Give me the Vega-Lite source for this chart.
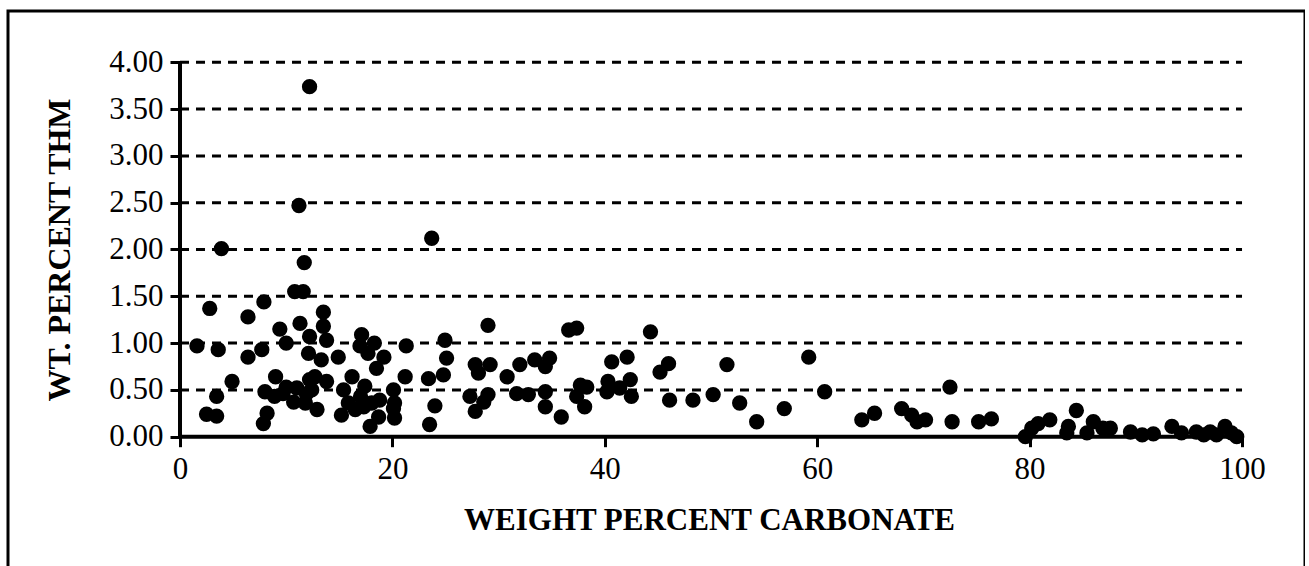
{
  "$schema": "https://vega.github.io/schema/vega-lite/v6.json",
  "width": 1297,
  "height": 560,
  "autosize": {"type": "none"},
  "padding": {"left": 8, "top": 11, "right": 0, "bottom": 0},
  "background": "white",
  "config": {"view": {"stroke": "black", "strokeWidth": 3}, "font": "Liberation Serif"},
  "datasets": {
    "points": [
      {"carbonate": 12.2, "thm": 3.74}, {"carbonate": 11.2, "thm": 2.47}, {"carbonate": 3.9, "thm": 2.01}, {"carbonate": 23.7, "thm": 2.12},
      {"carbonate": 11.7, "thm": 1.86}, {"carbonate": 10.8, "thm": 1.55}, {"carbonate": 11.6, "thm": 1.55}, {"carbonate": 2.8, "thm": 1.37},
      {"carbonate": 6.4, "thm": 1.28}, {"carbonate": 7.9, "thm": 1.44}, {"carbonate": 1.6, "thm": 0.97}, {"carbonate": 3.6, "thm": 0.93},
      {"carbonate": 6.4, "thm": 0.85}, {"carbonate": 7.7, "thm": 0.93}, {"carbonate": 4.9, "thm": 0.59}, {"carbonate": 3.45, "thm": 0.43},
      {"carbonate": 2.5, "thm": 0.24}, {"carbonate": 3.45, "thm": 0.22}, {"carbonate": 7.85, "thm": 0.14}, {"carbonate": 8.2, "thm": 0.25},
      {"carbonate": 8.0, "thm": 0.48}, {"carbonate": 9.0, "thm": 0.64}, {"carbonate": 9.4, "thm": 1.15}, {"carbonate": 10.0, "thm": 1.0},
      {"carbonate": 11.3, "thm": 1.21}, {"carbonate": 13.5, "thm": 1.33}, {"carbonate": 13.5, "thm": 1.18}, {"carbonate": 12.2, "thm": 1.07},
      {"carbonate": 13.8, "thm": 1.03}, {"carbonate": 12.1, "thm": 0.89}, {"carbonate": 14.9, "thm": 0.85}, {"carbonate": 13.3, "thm": 0.82},
      {"carbonate": 12.7, "thm": 0.64}, {"carbonate": 13.8, "thm": 0.59}, {"carbonate": 12.4, "thm": 0.5}, {"carbonate": 10.0, "thm": 0.53},
      {"carbonate": 8.9, "thm": 0.43}, {"carbonate": 11.0, "thm": 0.52}, {"carbonate": 10.7, "thm": 0.37}, {"carbonate": 11.8, "thm": 0.36},
      {"carbonate": 12.9, "thm": 0.29}, {"carbonate": 15.4, "thm": 0.5}, {"carbonate": 15.2, "thm": 0.23}, {"carbonate": 16.2, "thm": 0.64},
      {"carbonate": 17.1, "thm": 1.09}, {"carbonate": 16.95, "thm": 0.97}, {"carbonate": 18.3, "thm": 1.0}, {"carbonate": 19.2, "thm": 0.85},
      {"carbonate": 17.7, "thm": 0.89}, {"carbonate": 18.5, "thm": 0.73}, {"carbonate": 17.4, "thm": 0.54}, {"carbonate": 17.0, "thm": 0.43},
      {"carbonate": 15.85, "thm": 0.36}, {"carbonate": 16.5, "thm": 0.29}, {"carbonate": 17.3, "thm": 0.32}, {"carbonate": 18.05, "thm": 0.36},
      {"carbonate": 18.8, "thm": 0.39}, {"carbonate": 18.7, "thm": 0.21}, {"carbonate": 17.9, "thm": 0.11}, {"carbonate": 20.1, "thm": 0.5},
      {"carbonate": 20.2, "thm": 0.36}, {"carbonate": 20.2, "thm": 0.2}, {"carbonate": 20.1, "thm": 0.3}, {"carbonate": 21.2, "thm": 0.64},
      {"carbonate": 21.3, "thm": 0.97}, {"carbonate": 23.4, "thm": 0.62}, {"carbonate": 23.5, "thm": 0.13}, {"carbonate": 24.0, "thm": 0.33},
      {"carbonate": 24.8, "thm": 0.66}, {"carbonate": 25.1, "thm": 0.84}, {"carbonate": 24.95, "thm": 1.03}, {"carbonate": 9.7, "thm": 0.46},
      {"carbonate": 11.9, "thm": 0.46}, {"carbonate": 12.2, "thm": 0.61},
      {"carbonate": 29.0, "thm": 1.19}, {"carbonate": 27.8, "thm": 0.77}, {"carbonate": 28.1, "thm": 0.68}, {"carbonate": 29.2, "thm": 0.77},
      {"carbonate": 27.3, "thm": 0.43}, {"carbonate": 27.8, "thm": 0.27}, {"carbonate": 28.6, "thm": 0.37}, {"carbonate": 29.0, "thm": 0.45},
      {"carbonate": 30.8, "thm": 0.64}, {"carbonate": 32.0, "thm": 0.77}, {"carbonate": 33.4, "thm": 0.82}, {"carbonate": 34.8, "thm": 0.84},
      {"carbonate": 34.4, "thm": 0.75}, {"carbonate": 31.7, "thm": 0.46}, {"carbonate": 32.8, "thm": 0.45}, {"carbonate": 34.4, "thm": 0.48},
      {"carbonate": 34.4, "thm": 0.32}, {"carbonate": 35.9, "thm": 0.21}, {"carbonate": 36.6, "thm": 1.14}, {"carbonate": 37.35, "thm": 1.16},
      {"carbonate": 37.7, "thm": 0.55}, {"carbonate": 37.35, "thm": 0.43}, {"carbonate": 38.1, "thm": 0.32}, {"carbonate": 38.3, "thm": 0.53},
      {"carbonate": 40.65, "thm": 0.8}, {"carbonate": 42.1, "thm": 0.85}, {"carbonate": 40.3, "thm": 0.59}, {"carbonate": 40.2, "thm": 0.48},
      {"carbonate": 41.4, "thm": 0.52}, {"carbonate": 42.4, "thm": 0.61}, {"carbonate": 42.5, "thm": 0.43}, {"carbonate": 44.3, "thm": 1.12},
      {"carbonate": 45.2, "thm": 0.69}, {"carbonate": 46.0, "thm": 0.78}, {"carbonate": 46.1, "thm": 0.39}, {"carbonate": 48.3, "thm": 0.39},
      {"carbonate": 50.2, "thm": 0.45}, {"carbonate": 51.5, "thm": 0.77}, {"carbonate": 52.7, "thm": 0.36}, {"carbonate": 54.3, "thm": 0.16},
      {"carbonate": 56.9, "thm": 0.3}, {"carbonate": 59.2, "thm": 0.85}, {"carbonate": 60.7, "thm": 0.48}, {"carbonate": 64.2, "thm": 0.18},
      {"carbonate": 65.4, "thm": 0.25}, {"carbonate": 67.95, "thm": 0.3}, {"carbonate": 68.9, "thm": 0.23}, {"carbonate": 69.4, "thm": 0.16},
      {"carbonate": 70.2, "thm": 0.18}, {"carbonate": 72.5, "thm": 0.53}, {"carbonate": 72.7, "thm": 0.16}, {"carbonate": 75.2, "thm": 0.16},
      {"carbonate": 76.4, "thm": 0.19}, {"carbonate": 79.6, "thm": 0.0}, {"carbonate": 80.2, "thm": 0.09}, {"carbonate": 80.8, "thm": 0.14},
      {"carbonate": 81.9, "thm": 0.18}, {"carbonate": 83.5, "thm": 0.04}, {"carbonate": 83.65, "thm": 0.11}, {"carbonate": 84.4, "thm": 0.28},
      {"carbonate": 85.4, "thm": 0.04}, {"carbonate": 86.0, "thm": 0.16}, {"carbonate": 86.9, "thm": 0.09}, {"carbonate": 87.6, "thm": 0.09},
      {"carbonate": 89.5, "thm": 0.05}, {"carbonate": 90.6, "thm": 0.02}, {"carbonate": 91.65, "thm": 0.03}, {"carbonate": 93.4, "thm": 0.11},
      {"carbonate": 94.3, "thm": 0.04}, {"carbonate": 95.7, "thm": 0.05}, {"carbonate": 96.4, "thm": 0.02}, {"carbonate": 97.0, "thm": 0.05},
      {"carbonate": 97.6, "thm": 0.02}, {"carbonate": 98.4, "thm": 0.11}, {"carbonate": 99.0, "thm": 0.04}, {"carbonate": 99.5, "thm": 0.0}
    ],
    "gridlines": [
      {"level": 0.5}, {"level": 1.0}, {"level": 1.5}, {"level": 2.0},
      {"level": 2.5}, {"level": 3.0}, {"level": 3.5}, {"level": 4.0}
    ]
  },
  "layer": [
    {
      "data": {"name": "points"},
      "mark": {"type": "circle", "size": 235, "color": "black", "opacity": 1},
      "encoding": {
        "x": {
          "field": "carbonate", "type": "quantitative",
          "scale": {"domain": [-16.196, 105.93], "nice": false, "zero": false},
          "axis": {
            "orient": "bottom", "offset": -134.3, "values": [0, 20, 40, 60, 80, 100], "format": "d",
            "domain": false, "grid": false, "ticks": true, "tickSize": 10, "tickWidth": 3, "tickColor": "black",
            "labelFont": "Liberation Serif", "labelFontSize": 31, "labelColor": "black", "labelPadding": 8,
            "labelFlush": false, "labelOverlap": false,
            "title": "WEIGHT PERCENT CARBONATE", "titleFont": "Liberation Serif", "titleFontWeight": "bold",
            "titleFontSize": 31, "titleColor": "black", "titleX": 701, "titleY": 84,
            "titleBaseline": "middle", "titleAlign": "center"
          }
        },
        "y": {
          "field": "thm", "type": "quantitative",
          "scale": {"domain": [-1.435, 4.548], "nice": false, "zero": false},
          "axis": {
            "orient": "left", "offset": -172, "values": [0, 0.5, 1, 1.5, 2, 2.5, 3, 3.5, 4], "format": ".2f",
            "domain": false, "grid": false, "ticks": true, "tickSize": 10, "tickWidth": 3, "tickColor": "black",
            "labelFont": "Liberation Serif", "labelFontSize": 31, "labelColor": "black", "labelPadding": 7,
            "labelFlush": false, "labelOverlap": false,
            "title": "WT. PERCENT THM", "titleFont": "Liberation Serif", "titleFontWeight": "bold",
            "titleFontSize": 32, "titleColor": "black", "titleAngle": -90, "titleX": -121, "titleY": 238.5,
            "titleBaseline": "middle", "titleAlign": "center"
          }
        }
      }
    },
    {
      "data": {"name": "gridlines"},
      "mark": {"type": "rule", "color": "black", "strokeWidth": 3, "strokeDash": [9, 7]},
      "encoding": {
        "y": {"field": "level", "type": "quantitative", "scale": {"domain": [-1.435, 4.548], "nice": false, "zero": false}},
        "x": {"datum": 0, "type": "quantitative", "scale": {"domain": [-16.196, 105.93], "nice": false, "zero": false}},
        "x2": {"datum": 100}
      }
    },
    {
      "data": {"values": [{}]},
      "mark": {"type": "rule", "color": "black", "strokeWidth": 4},
      "encoding": {
        "x": {"datum": 0, "type": "quantitative", "scale": {"domain": [-16.196, 105.93], "nice": false, "zero": false}},
        "y": {"datum": 0, "type": "quantitative", "scale": {"domain": [-1.435, 4.548], "nice": false, "zero": false}},
        "y2": {"datum": 4}
      }
    },
    {
      "data": {"values": [{}]},
      "mark": {"type": "rule", "color": "black", "strokeWidth": 4},
      "encoding": {
        "y": {"datum": 0, "type": "quantitative", "scale": {"domain": [-1.435, 4.548], "nice": false, "zero": false}},
        "x": {"datum": 0, "type": "quantitative", "scale": {"domain": [-16.196, 105.93], "nice": false, "zero": false}},
        "x2": {"datum": 100}
      }
    }
  ]
}
